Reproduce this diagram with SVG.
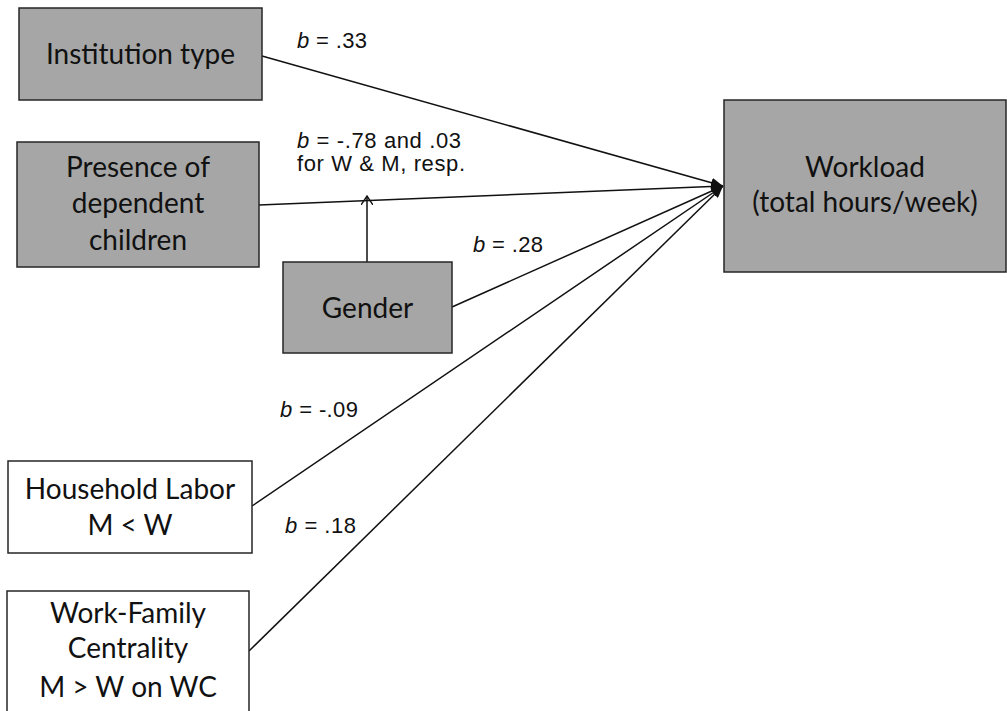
<svg xmlns="http://www.w3.org/2000/svg" width="1007" height="711" viewBox="0 0 1007 711">
<defs>
<style>
.box{stroke:#262626;stroke-width:1.5}
.g{fill:#a6a6a6}
.w{fill:#ffffff}
.t{font-family:Lato,"Liberation Sans",sans-serif;font-size:28px;fill:#111;text-anchor:middle}
.lbl{font-family:"Liberation Sans",Arial,sans-serif;font-size:22px;fill:#111}
.edge{stroke:#111;stroke-width:1.5;fill:none}
</style>
<marker id="ah" viewBox="0 0 12 10" refX="12" refY="5" markerWidth="12" markerHeight="10" markerUnits="userSpaceOnUse" orient="auto">
<path d="M0,0 L12,5 L0,10 Z" fill="#111"/>
</marker>
<marker id="oa" viewBox="0 0 10 12" refX="9" refY="6" markerWidth="10" markerHeight="12" markerUnits="userSpaceOnUse" orient="auto">
<path d="M0,0 L9,6 L0,12" fill="none" stroke="#111" stroke-width="1.4"/>
</marker>
</defs>
<rect width="1007" height="711" fill="#ffffff"/>
<g id="connectors">
<line class="edge" x1="262" y1="56" x2="723" y2="186" marker-end="url(#ah)"/>
<line class="edge" x1="259" y1="205" x2="723" y2="186" marker-end="url(#ah)"/>
<line class="edge" x1="452" y1="307" x2="723" y2="186" marker-end="url(#ah)"/>
<line class="edge" x1="252" y1="506" x2="723" y2="186" marker-end="url(#ah)"/>
<line class="edge" x1="249" y1="651" x2="723" y2="186" marker-end="url(#ah)"/>
<line class="edge" x1="367" y1="262" x2="367" y2="196" marker-end="url(#oa)"/>
</g>
<g id="labels">
<text class="lbl" x="297" y="48" textLength="70"><tspan font-style="italic">b</tspan> = .33</text>
<text class="lbl" x="297" y="148" textLength="164"><tspan font-style="italic">b</tspan> = -.78 and .03</text>
<text class="lbl" x="297" y="171" textLength="168">for W &amp; M, resp.</text>
<text class="lbl" x="473" y="252" textLength="70"><tspan font-style="italic">b</tspan> = .28</text>
<text class="lbl" x="280" y="417" textLength="78"><tspan font-style="italic">b</tspan> = -.09</text>
<text class="lbl" x="285" y="533" textLength="71"><tspan font-style="italic">b</tspan> = .18</text>
</g>
<g id="institution">
<rect class="box g" x="19" y="8" width="243" height="92"/>
<text class="t" x="140.5" y="64">Institution type</text>
</g>
<g id="presence">
<rect class="box g" x="17" y="142" width="242" height="125"/>
<text class="t" x="138" y="177">Presence of</text>
<text class="t" x="138" y="213">dependent</text>
<text class="t" x="138" y="250">children</text>
</g>
<g id="gender">
<rect class="box g" x="283" y="262" width="169" height="91"/>
<text class="t" x="367.5" y="318">Gender</text>
</g>
<g id="workload">
<rect class="box g" x="724" y="100" width="282" height="172"/>
<text class="t" x="865" y="177">Workload</text>
<text class="t" x="865" y="212">(total hours/week)</text>
</g>
<g id="household">
<rect class="box w" x="8" y="461" width="244" height="92"/>
<text class="t" x="130" y="499">Household Labor</text>
<text class="t" x="130" y="535">M &lt; W</text>
</g>
<g id="workfamily">
<rect class="box w" x="7" y="591" width="242" height="130"/>
<text class="t" x="128" y="623">Work-Family</text>
<text class="t" x="128" y="658">Centrality</text>
<text class="t" x="128" y="697">M &gt; W on WC</text>
</g>
</svg>
